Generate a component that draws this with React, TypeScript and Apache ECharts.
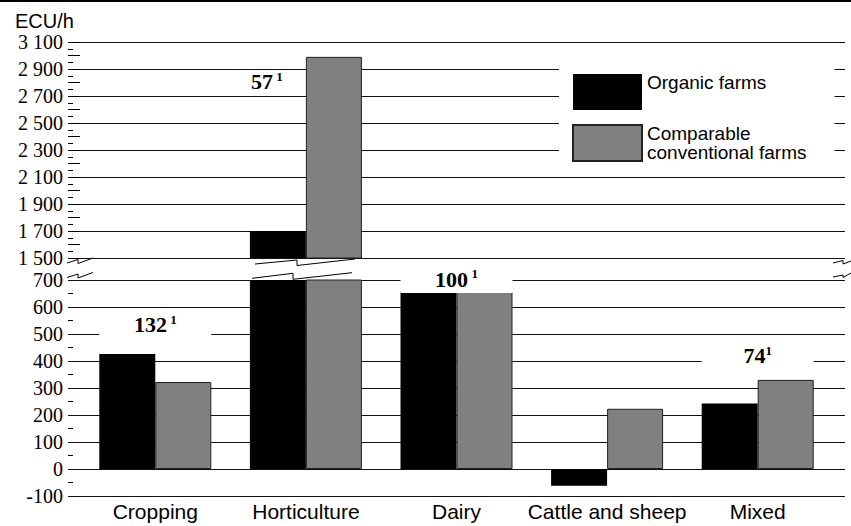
import React, { useEffect, useRef } from 'react';
import * as echarts from 'echarts';

// ---- data ----
const categories = ['Cropping', 'Horticulture', 'Dairy', 'Cattle and sheep', 'Mixed'];
const organicFarms = [426, 1700, 657, -62, 243];
const conventionalFarms = [322, 2990, 657, 223, 330];
const sampleSizes: (number | null)[] = [132, 57, 100, null, 74];
const seriesNames = ['Organic farms', 'Comparable conventional farms'];
const yUnit = 'ECU/h';

// axis ranges (broken axis)
const upperRange = { min: 1500, max: 3100, step: 200 };
const lowerRange = { min: -100, max: 700, step: 100 };

// where the sample-size notes sit (value on the y scale)
const noteAnchorY: (number | null)[] = [530, 2804, 700, null, 415];

const SERIF = 'Liberation Serif';
const SANS = 'Liberation Sans';

function fmtThousands(v: number): string {
  if (Math.abs(v) >= 1000) {
    return `${Math.floor(v / 1000)} ${String(v % 1000).padStart(3, '0')}`;
  }
  return String(v);
}

function buildOption(): any {
  const black = '#000';
  const gray = '#808080';

  const axisCommon = {
    type: 'value',
    axisLine: { show: false },
    axisTick: { show: false, inside: true },
    axisLabel: { margin: 5, fontFamily: SERIF, fontSize: 20, color: black },
    splitLine: { show: true, lineStyle: { color: '#111', width: 1 } },
  };

  const upperOnly = (arr: number[]) => arr.map((v) => (v >= upperRange.min ? v : '-'));

  const noteRich = {
    n: { fontFamily: SERIF, fontWeight: 'bold', fontSize: 22, color: black, lineHeight: 24, textBorderWidth: 0 },
    s: { fontFamily: SERIF, fontWeight: 'bold', fontSize: 13, color: black, lineHeight: 13, verticalAlign: 'top', textBorderWidth: 0 },
  };

  const lowerNotes: any[] = [];
  const upperNotes: any[] = [];
  sampleSizes.forEach((n, i) => {
    const y = noteAnchorY[i];
    if (n == null || y == null) return;
    const isUpper = y >= upperRange.min;
    const spacer = n >= 100 || isUpper ? ' ' : '';
    const base = {
      show: true,
      position: 'inside',
      color: black,
      opacity: 1,
      textBorderWidth: 0,
      formatter: `{n|${n}}${spacer}{s|1}`,
      rich: noteRich,
    };
    const item = {
      value: [i, y],
      label: isUpper
        ? { ...base, offset: [-39, 0] }
        : {
            ...base,
            backgroundColor: '#fff',
            width: 112,
            height: 26,
            align: 'center',
            verticalAlign: 'middle',
          },
    };
    (isUpper ? upperNotes : lowerNotes).push(item);
  });

  const breakStyle = { stroke: black, lineWidth: 1, fill: 'none' };

  const noteSeries = (name: string, xi: number, yi: number, data: any[]) => ({
    name,
    type: 'scatter',
    xAxisIndex: xi,
    yAxisIndex: yi,
    symbolSize: 0,
    silent: true,
    clip: false,
    z: 5,
    itemStyle: { opacity: 1 },
    data,
  });

  return {
    animation: false,
    backgroundColor: '#fff',
    title: {
      text: yUnit,
      left: 15,
      top: 11,
      padding: 0,
      textStyle: { fontFamily: SANS, fontSize: 20, fontWeight: 'normal', color: black },
    },
    legend: {
      data: seriesNames.map((name) => ({ name })),
      orient: 'vertical',
      left: 559,
      top: 60,
      padding: [13, 28, 7, 13],
      itemGap: 13,
      itemWidth: 69,
      itemHeight: 36,
      icon: 'rect',
      backgroundColor: '#fff',
      selectedMode: false,
      textStyle: { fontFamily: SANS, fontSize: 19, lineHeight: 19, color: black },
      formatter: (name: string) =>
        name === seriesNames[0] ? `${name}\n ` : 'Comparable\nconventional farms',
    },
    grid: [
      { left: 68, top: 42, width: 777, height: 216 },
      { left: 68, top: 280, width: 777, height: 216 },
      { left: 80, top: 42, width: 753, height: 216 },
      { left: 80, top: 280, width: 753, height: 216 },
    ],
    xAxis: [
      { gridIndex: 0, type: 'value', min: 0, max: 1, show: false, splitLine: { show: false } },
      { gridIndex: 1, type: 'value', min: 0, max: 1, show: false, splitLine: { show: false } },
      { gridIndex: 2, type: 'category', data: categories, show: false },
      {
        gridIndex: 3,
        type: 'category',
        data: categories,
        axisLine: { show: false },
        axisTick: { show: false },
        axisLabel: { margin: 5, fontFamily: SANS, fontSize: 21, color: black, interval: 0 },
      },
    ],
    yAxis: [
      {
        ...axisCommon,
        gridIndex: 0,
        min: upperRange.min,
        max: upperRange.max,
        interval: upperRange.step,
        minorTick: { show: true, splitNumber: 4, length: 5, lineStyle: { color: black } },
        axisLabel: { ...axisCommon.axisLabel, formatter: (v: number) => fmtThousands(v) },
      },
      {
        gridIndex: 0,
        type: 'value',
        position: 'left',
        min: upperRange.min,
        max: upperRange.max,
        interval: upperRange.step / 2,
        axisLine: { show: false },
        axisTick: { show: true, inside: true, length: 12, lineStyle: { color: black } },
        axisLabel: { show: false },
        splitLine: { show: false },
      },
      {
        ...axisCommon,
        gridIndex: 1,
        min: lowerRange.min,
        max: lowerRange.max,
        interval: lowerRange.step,
        minorTick: { show: true, splitNumber: 2, length: 5, lineStyle: { color: black } },
      },
      { gridIndex: 2, type: 'value', min: upperRange.min, max: upperRange.max, show: false, splitLine: { show: false } },
      { gridIndex: 3, type: 'value', min: lowerRange.min, max: lowerRange.max, show: false, splitLine: { show: false } },
    ],
    series: [
      {
        name: seriesNames[0],
        type: 'bar',
        xAxisIndex: 3,
        yAxisIndex: 4,
        data: organicFarms,
        barWidth: 56,
        barGap: '0%',
        clip: true,
        itemStyle: { color: black },
      },
      {
        name: seriesNames[1],
        type: 'bar',
        xAxisIndex: 3,
        yAxisIndex: 4,
        data: conventionalFarms,
        barWidth: 56,
        barGap: '0%',
        clip: true,
        itemStyle: { color: gray, borderColor: '#222', borderWidth: 1 },
      },
      {
        name: seriesNames[0],
        type: 'bar',
        xAxisIndex: 2,
        yAxisIndex: 3,
        data: upperOnly(organicFarms),
        barWidth: 56,
        barGap: '0%',
        clip: true,
        itemStyle: { color: black },
      },
      {
        name: seriesNames[1],
        type: 'bar',
        xAxisIndex: 2,
        yAxisIndex: 3,
        data: upperOnly(conventionalFarms),
        barWidth: 56,
        barGap: '0%',
        clip: true,
        itemStyle: { color: gray, borderColor: '#222', borderWidth: 1 },
      },
      noteSeries('notes-lower', 3, 4, lowerNotes),
      noteSeries('notes-upper', 2, 3, upperNotes),
    ],
    graphic: [
      { type: 'rect', shape: { x: 0, y: 0, width: 851, height: 2 }, style: { fill: black }, z: 10 },
      // break marks on the left
      { type: 'polyline', shape: { points: [[67, 263], [78, 259.5], [78, 263.5], [93, 258]] }, style: breakStyle, z: 10 },
      { type: 'polyline', shape: { points: [[67, 277.5], [78, 274], [78, 278], [93, 272.5]] }, style: breakStyle, z: 10 },
      // break marks across horticulture bars
      { type: 'polyline', shape: { points: [[255, 264], [297, 260], [297, 265.5], [355, 259]] }, style: breakStyle, z: 10 },
      { type: 'polyline', shape: { points: [[252, 278.3], [293, 273.3], [293, 279.3], [352, 272.7]] }, style: breakStyle, z: 10 },
      // break marks on the right
      { type: 'polyline', shape: { points: [[833, 263], [843, 260.5], [843, 264], [851, 261]] }, style: breakStyle, z: 10 },
      { type: 'polyline', shape: { points: [[833, 277], [843, 275], [843, 277.5], [851, 273]] }, style: breakStyle, z: 10 },
    ],
  };
}

export default function App() {
  const ref = useRef<HTMLDivElement>(null);
  useEffect(() => {
    if (!ref.current) return;
    const chart = echarts.init(ref.current, undefined, { renderer: 'svg' });
    chart.setOption(buildOption());
    return () => chart.dispose();
  }, []);
  return (
    <div
      ref={ref}
      style={{ position: 'absolute', left: 0, top: 0, width: 851, height: 526, background: '#fff' }}
    />
  );
}
